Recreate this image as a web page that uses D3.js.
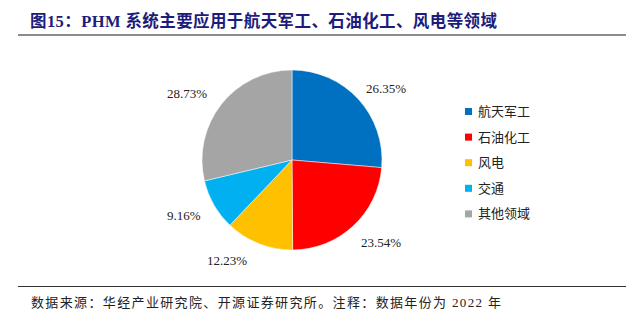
<!DOCTYPE html>
<html><head><meta charset="utf-8">
<script src="https://cdn.jsdelivr.net/npm/d3@7"></script>
<style>body{margin:0;background:#fff;}svg{display:block;}</style>
</head><body><svg id="c" width="644" height="322"></svg>
<script>
const categories = ["航天军工","石油化工","风电","交通","其他领域"];
const values = [26.35, 23.54, 12.23, 9.16, 28.73];
const colors = ["#0070C0","#FF0000","#FFC000","#00B0F0","#A5A5A5"];
const labelPos = [[366,88],[361,242],[207,260],[167,215],[167,93]];

const svg = d3.select("#c");
const font = "'Liberation Serif','Times New Roman','Noto Sans CJK SC',serif";

svg.append("text").attr("x",30).attr("y",27).attr("fill","#1c1c7c")
  .attr("font-family",font).attr("font-weight","bold").attr("font-size",16.5)
  .attr("textLength",467).attr("lengthAdjust","spacing")
  .text("图15：PHM 系统主要应用于航天军工、石油化工、风电等领域");
svg.append("line").attr("x1",18).attr("x2",626).attr("y1",35).attr("y2",35)
  .attr("stroke","#8c8c8c").attr("stroke-width",2);
svg.append("line").attr("x1",18).attr("x2",626).attr("y1",286.5).attr("y2",286.5)
  .attr("stroke","#333").attr("stroke-width",1);
svg.append("text").attr("x",31).attr("y",307).attr("fill","#222")
  .attr("font-family",font).attr("font-size",13)
  .attr("textLength",470).attr("lengthAdjust","spacing")
  .text("数据来源：华经产业研究院、开源证券研究所。注释：数据年份为 2022 年");

const cx=292, cy=160, r=90;
const pie = d3.pie().sort(null).value(d=>d)(values);
const arc = d3.arc().innerRadius(0).outerRadius(r);
const g = svg.append("g").attr("transform",`translate(${cx},${cy})`);
g.selectAll("path").data(pie).join("path").attr("d",arc)
  .attr("fill",(d,i)=>colors[i]).attr("stroke","#fff").attr("stroke-width",0.5);

svg.selectAll("text.lbl").data(pie).join("text").attr("class","lbl")
  .attr("x",(d,i)=>labelPos[i][0]).attr("y",(d,i)=>labelPos[i][1]+4.5)
  .attr("font-family",font).attr("font-size",13).attr("fill","#222")
  .text(d=>d.value.toFixed(2)+"%");

const leg = svg.selectAll("g.leg").data(categories).join("g").attr("class","leg")
  .attr("transform",(d,i)=>`translate(465,${111.5+i*25.6})`);
leg.append("rect").attr("x",0).attr("y",-3.5).attr("width",7).attr("height",7)
  .attr("fill",(d,i)=>colors[i]);
leg.append("text").attr("x",13).attr("y",4.5).attr("font-family",font)
  .attr("font-size",13).attr("fill","#222").text(d=>d);
</script></body></html>
